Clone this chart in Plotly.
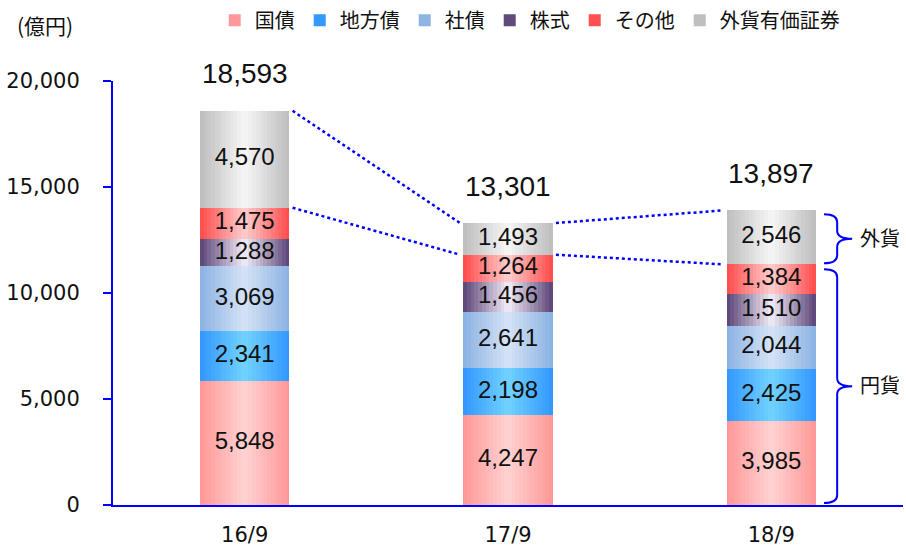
import plotly.graph_objects as go

# ---- data ----
categories = ["16/9", "17/9", "18/9"]
series_names = ["国債", "地方債", "社債", "株式", "その他", "外貨有価証券"]
kokusai = [5848, 4247, 3985]
chihousai = [2341, 2198, 2425]
shasai = [3069, 2641, 2044]
kabushiki = [1288, 1456, 1510]
sonota = [1475, 1264, 1384]
gaika = [4570, 1493, 2546]
totals = [18593, 13301, 13897]
y_ticks = [0, 5000, 10000, 15000, 20000]

series_values = [kokusai, chihousai, shasai, kabushiki, sonota, gaika]
edge_colors = ["#FF9999", "#3399FF", "#8EB4E3", "#5F4A7B", "#FF4F4F", "#BFBFBF"]
center_colors = ["#FFD0D0", "#6FD0FF", "#D2E1F5", "#ECE6F2", "#FFC8C8", "#F4F4F4"]

BAR_W = 0.34
N_LAYERS = 12
BLUE = "#0000FF"
NUM_FONT = "Liberation Sans, Arial, sans-serif"
AX_FONT = "DejaVu Sans, Verdana, sans-serif"
JP_FONT = "Noto Sans CJK JP, sans-serif"


def hex2rgb(h):
    h = h.lstrip("#")
    return tuple(int(h[i:i + 2], 16) for i in (0, 2, 4))


def mix(c1, c2, t):
    a, b = hex2rgb(c1), hex2rgb(c2)
    return "rgb(%d,%d,%d)" % tuple(round(a[i] + (b[i] - a[i]) * t) for i in range(3))


x = list(range(len(categories)))
fig = go.Figure()

# cumulative bases
bases = []
run = [0] * len(categories)
for vals in series_values:
    bases.append(list(run))
    run = [run[i] + vals[i] for i in range(len(categories))]

# bars with simulated horizontal gradient
for s, (name, vals) in enumerate(zip(series_names, series_values)):
    for k in range(N_LAYERS):
        t = k / (N_LAYERS - 1)
        w = BAR_W * (1 - k / N_LAYERS)
        fig.add_trace(go.Bar(
            x=x, y=vals, base=bases[s], width=[w] * len(x),
            marker=dict(color=mix(edge_colors[s], center_colors[s], t), line=dict(width=0)),
            name=name, legendgroup=name, showlegend=(k == 0),
            hoverinfo="skip",
        ))

# segment labels
for s, vals in enumerate(series_values):
    fig.add_trace(go.Scatter(
        x=x, y=[bases[s][i] + vals[i] / 2 for i in range(len(x))],
        text=[f"{v:,}" for v in vals], mode="text",
        textfont=dict(family=NUM_FONT, size=24, color="#111111"),
        showlegend=False, hoverinfo="skip", cliponaxis=False,
    ))

# dotted connector lines (top of 外貨 and top of 円貨)
yen_tops = bases[-1]
for i in range(len(x) - 1):
    for ys in (totals, yen_tops):
        fig.add_trace(go.Scatter(
            x=[x[i] + BAR_W / 2 + 0.012, x[i + 1] - BAR_W / 2 - 0.012],
            y=[ys[i], ys[i + 1]], mode="lines",
            line=dict(color=BLUE, width=2.5, dash="dot"),
            showlegend=False, hoverinfo="skip",
        ))

# total labels
for i, tval in enumerate(totals):
    fig.add_annotation(x=x[i], y=tval, text=f"{tval:,}", showarrow=False,
                       yanchor="middle", yshift=37,
                       font=dict(family=NUM_FONT, size=28, color="#111111"))


# braces on the last bar
def brace(x0, x1, x2, ytop, ybot, r):
    ym = (ytop + ybot) / 2
    return (f"M {x0},{ytop} Q {x1},{ytop} {x1},{ytop - r} L {x1},{ym + r} "
            f"Q {x1},{ym} {x2},{ym} Q {x1},{ym} {x1},{ym - r} L {x1},{ybot + r} "
            f"Q {x1},{ybot} {x0},{ybot}")


last = len(x) - 1
bx0, bx1, bx2 = last + 0.20, last + 0.25, last + 0.307
r = 380
fig.add_shape(type="path", xref="x", yref="y",
              path=brace(bx0, bx1, bx2, totals[last] - 180, yen_tops[last] + 50, r),
              line=dict(color=BLUE, width=2))
fig.add_shape(type="path", xref="x", yref="y",
              path=brace(bx0, bx1, bx2, yen_tops[last] - 230, 90, r),
              line=dict(color=BLUE, width=2))
fig.add_annotation(x=last + 0.413, y=(totals[last] + yen_tops[last]) / 2, text="外貨",
                   showarrow=False, font=dict(family=JP_FONT, size=20, color="#111111"))
fig.add_annotation(x=last + 0.413, y=yen_tops[last] / 2, text="円貨",
                   showarrow=False, font=dict(family=JP_FONT, size=20, color="#111111"))

fig.add_annotation(xref="paper", yref="paper", x=-0.124, y=1.132,
                   xanchor="left", yanchor="middle", text="(億円)",
                   showarrow=False, font=dict(family=JP_FONT, size=21, color="#111111"))

fig.update_layout(
    width=906, height=547,
    margin=dict(l=113, r=3, t=81, b=42, autoexpand=False),
    paper_bgcolor="white", plot_bgcolor="white",
    barmode="overlay",
    bargap=0,
    legend=dict(orientation="h", xref="container", yref="container",
                x=0.237, y=0.963, xanchor="left", yanchor="middle",
                font=dict(family=JP_FONT, size=20, color="#111111"),
                itemwidth=30, tracegroupgap=0, traceorder="normal"),
    xaxis=dict(range=[-0.5, 2.5], tickvals=x, ticktext=categories, automargin=False,
               showline=True, linecolor=BLUE, linewidth=2, ticks="",
               showgrid=False, zeroline=False, ticklabelstandoff=10,
               tickfont=dict(family=AX_FONT, size=21, color="#111111")),
    yaxis=dict(range=[0, 20000], tickvals=y_ticks, tickformat=",", automargin=False,
               showline=True, linecolor=BLUE, linewidth=2,
               ticks="outside", ticklen=8, tickwidth=2, tickcolor=BLUE,
               showgrid=False, zeroline=False, ticklabelstandoff=19,
               tickfont=dict(family=AX_FONT, size=21, color="#111111")),
)

fig.write_html(
    "out.html",
    config={"displayModeBar": False},
    post_script="document.body.style.margin='0';document.body.style.padding='0';"
                "document.body.style.overflow='hidden';",
)
